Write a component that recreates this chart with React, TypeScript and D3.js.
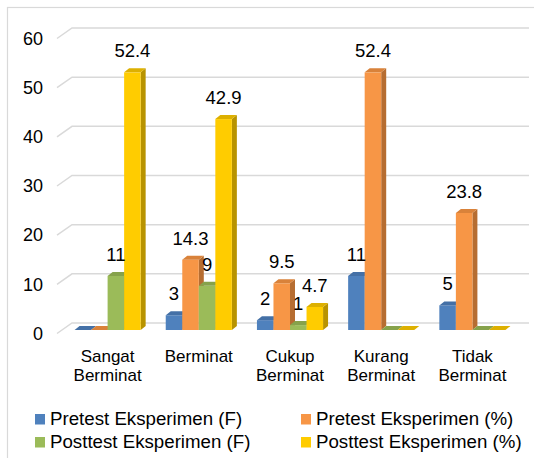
import * as d3 from 'd3';

const categories = ['Sangat Berminat', 'Berminat', 'Cukup Berminat', 'Kurang Berminat', 'Tidak Berminat'];
const seriesNames = ['Pretest Eksperimen (F)', 'Pretest Eksperimen (%)', 'Posttest Eksperimen (F)', 'Posttest Eksperimen (%)'];
const pretestF = [0, 3, 2, 11, 5];
const pretestPct = [0, 14.3, 9.5, 52.4, 23.8];
const posttestF = [11, 9, 1, 0, 0];
const posttestPct = [52.4, 42.9, 4.7, 0, 0];
const yTicks = [0, 10, 20, 30, 40, 50, 60];

// front / side / top shades per series
const colors = [
  { front: '#4F81BD', side: '#385D8A', top: '#4470A6' },
  { front: '#F79646', side: '#B66D31', top: '#D9823A' },
  { front: '#9BBB59', side: '#71893F', top: '#86A24B' },
  { front: '#FFCC00', side: '#B89300', top: '#DDB000' },
];

const W = 534;
const H = 458;
const FONT = '"Liberation Sans", Arial, sans-serif';
const DX = 5; // bar depth offset
const DY = 4;

export default function App() {
  const values = [pretestF, pretestPct, posttestF, posttestPct];

  const x0 = d3.scaleBand<string>()
    .domain(categories)
    .range([62, 518])
    .paddingInner(0.275)
    .paddingOuter(0.1375);
  const x1 = d3.scaleBand<number>()
    .domain(d3.range(seriesNames.length))
    .range([0, x0.bandwidth()]);

  const yFront = d3.scaleLinear().domain([0, 60]).range([330, 35]);
  const yBack = d3.scaleLinear().domain([0, 60]).range([323, 28]);

  const bars = categories.flatMap((c, ci) =>
    values.map((vals, si) => ({ c, ci, si, v: vals[ci] }))
  );

  return (
    <svg width={W} height={H} style={{ position: 'absolute', left: 0, top: 0, background: '#fff' }} fontFamily={FONT}>
      <rect x={7.5} y={7.5} width={600} height={600} fill="#fff" stroke="#D9D9D9" strokeWidth={1.2} />

      {/* gridlines with 3D wall offset */}
      {yTicks.map((t) => {
        const yb = yBack(t);
        return (
          <g key={t}>
            <polyline
              points={`57,${yb + 10.5} 72,${yb} 529,${yb}`}
              fill="none"
              stroke="#D9D9D9"
              strokeWidth={1.5}
            />
            <text x={43} y={yb + 10.5} dy="0.35em" textAnchor="end" fontSize={18} fill="#000">
              {t}
            </text>
          </g>
        );
      })}

      {/* bars */}
      {bars.map((b) => {
        const x = (x0(b.c) ?? 0) + (x1(b.si) ?? 0);
        const w = x1.bandwidth();
        const base = yFront(0);
        const top = yFront(b.v);
        const col = colors[b.si];
        return (
          <g key={`${b.ci}-${b.si}`}>
            <polygon
              points={`${x + w},${top} ${x + w + DX},${top - DY} ${x + w + DX},${base - DY} ${x + w},${base}`}
              fill={col.side}
            />
            <rect x={x} y={top} width={w} height={base - top} fill={col.front} />
            <polygon
              points={`${x},${top} ${x + DX},${top - DY} ${x + w + DX},${top - DY} ${x + w},${top}`}
              fill={col.top}
            />
          </g>
        );
      })}

      {/* data labels (zeros are not labelled) */}
      {bars.filter((b) => b.v > 0).map((b) => {
        const x = (x0(b.c) ?? 0) + (x1(b.si) ?? 0) + x1.bandwidth() / 2;
        return (
          <text key={`l-${b.ci}-${b.si}`} x={x} y={yFront(b.v) - 15} textAnchor="middle" fontSize={18.5} fill="#000">
            {b.v}
          </text>
        );
      })}

      {/* category labels */}
      {categories.map((c) => {
        const cx = (x0(c) ?? 0) + x0.bandwidth() / 2;
        const lines = c.split(' ');
        return (
          <text key={c} x={cx} y={362} textAnchor="middle" fontSize={17} fill="#000">
            {lines.map((l, i) => (
              <tspan key={i} x={cx} dy={i === 0 ? 0 : 19}>{l}</tspan>
            ))}
          </text>
        );
      })}

      {/* legend */}
      {seriesNames.map((s, i) => {
        const lx = i % 2 === 0 ? 35 : 301;
        const ly = i < 2 ? 425 : 448;
        return (
          <g key={s}>
            <rect x={lx} y={ly - 11} width={10} height={10.5} fill={colors[i].front} />
            <text x={lx + 15} y={ly} fontSize={18.7} fill="#000">{s}</text>
          </g>
        );
      })}
    </svg>
  );
}
